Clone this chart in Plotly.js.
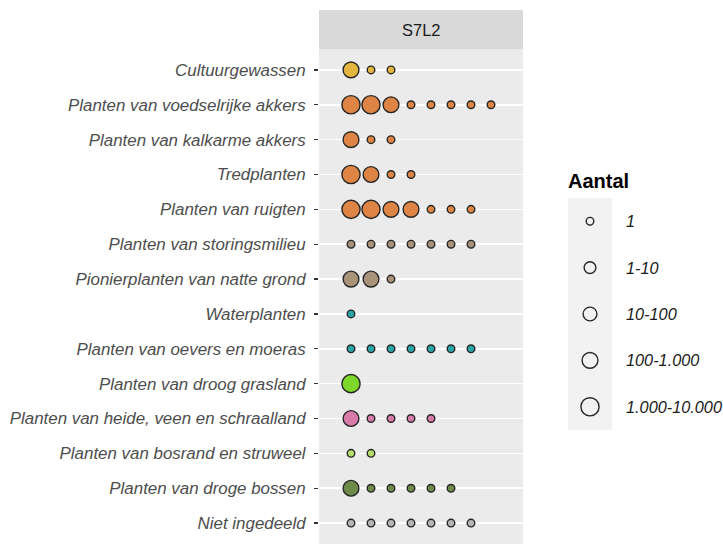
<!DOCTYPE html>
<html>
<head>
<meta charset="utf-8">
<script src="https://cdn.plot.ly/plotly-3.0.1.min.js"></script>
<style>html,body{margin:0;padding:0;background:#fff;}</style>
</head>
<body>
<div id="chart" style="width:723px;height:545px;"></div>
<script>
// ---- data ----
const facet = "S7L2";
const categories = [
  "Cultuurgewassen",
  "Planten van voedselrijke akkers",
  "Planten van kalkarme akkers",
  "Tredplanten",
  "Planten van ruigten",
  "Planten van storingsmilieu",
  "Pionierplanten van natte grond",
  "Waterplanten",
  "Planten van oevers en moeras",
  "Planten van droog grasland",
  "Planten van heide, veen en schraalland",
  "Planten van bosrand en struweel",
  "Planten van droge bossen",
  "Niet ingedeeld"
];
const groupColors = [
  "#E3B541", "#DE8545", "#DE8545", "#DE8545", "#DE8545",
  "#A89379", "#A89379", "#2AA5A5", "#2AA5A5", "#7ED62A",
  "#D97BA8", "#B7DE6A", "#6E8A4A", "#B5B5B5"
];
// size class index per point (0 = "1", 1 = "1-10", 2 = "10-100", 3 = "100-1.000", 4 = "1.000-10.000")
const sizeClassPerGroup = [
  [3, 0, 0],
  [4, 4, 3, 0, 0, 0, 0, 0],
  [3, 0, 0],
  [4, 3, 0, 0],
  [4, 4, 3, 3, 0, 0, 0],
  [0, 0, 0, 0, 0, 0, 0],
  [3, 3, 0],
  [0],
  [0, 0, 0, 0, 0, 0, 0],
  [4],
  [3, 0, 0, 0, 0],
  [0, 0],
  [3, 0, 0, 0, 0, 0],
  [0, 0, 0, 0, 0, 0, 0]
];
const sizeLabels = ["1", "1-10", "10-100", "100-1.000", "1.000-10.000"];

// ---- styling ----
const markerDiam = [7.6, 11.8, 13.8, 15.8, 18.2];
const W = 723, H = 545;
const px = v => v / W;
const py = v => (H - v) / H;
const FONT = "Liberation Sans, Arial, sans-serif";

const traces = [];
categories.forEach((cat, i) => {
  const cls = sizeClassPerGroup[i];
  traces.push({
    type: "scatter", mode: "markers",
    x: cls.map((_, k) => k + 1),
    y: cls.map(() => cat),
    marker: {
      size: cls.map(c => markerDiam[c]),
      color: groupColors[i],
      opacity: 1,
      line: {color: "#262626", width: 1.4}
    },
    hoverinfo: "skip", showlegend: false,
    xaxis: "x", yaxis: "y"
  });
});

// legend keys drawn on their own small axes
traces.push({
  type: "scatter", mode: "markers",
  x: sizeLabels.map(() => 0),
  y: sizeLabels.map((_, i) => i),
  marker: {
    symbol: "circle-open",
    size: sizeLabels.map((_, i) => markerDiam[i]),
    color: "#262626",
    opacity: 1,
    line: {width: 1.4}
  },
  hoverinfo: "skip", showlegend: false,
  xaxis: "x2", yaxis: "y2"
});

const annotations = [
  {text: facet, xref: "paper", yref: "paper", x: px(421), y: py(29.5),
   showarrow: false, xanchor: "center", yanchor: "middle",
   font: {family: FONT, size: 16.5, color: "#1A1A1A"}},
  {text: "Aantal", xref: "paper", yref: "paper", x: px(566), y: py(181),
   showarrow: false, xanchor: "left", yanchor: "middle",
   font: {family: FONT, size: 20, color: "#000", weight: "bold"}}
];
sizeLabels.forEach((lab, i) => {
  annotations.push({
    text: lab, xref: "paper", yref: "y2", x: px(624), y: i,
    showarrow: false, xanchor: "left", yanchor: "middle",
    font: {family: FONT, size: 16.3, color: "#1A1A1A", style: "italic"}
  });
});

const layout = {
  width: W, height: H,
  margin: {l: 0, r: 0, t: 0, b: 0},
  paper_bgcolor: "#FFFFFF",
  plot_bgcolor: "#EBEBEB",
  showlegend: false,
  xaxis: {
    domain: [px(319), px(523)],
    range: [-0.6, 9.6],
    showgrid: false, zeroline: false, showline: false,
    showticklabels: false, ticks: "", fixedrange: true
  },
  yaxis: {
    domain: [py(544), py(49)],
    type: "category",
    categoryorder: "array", categoryarray: categories,
    range: [categories.length - 1 + 0.6, -0.6],
    showgrid: true, gridcolor: "#FFFFFF", gridwidth: 1.6,
    zeroline: false, showline: false,
    ticks: "outside", ticklen: 4, tickwidth: 1.3, tickcolor: "#333333",
    ticklabelstandoff: 5,
    tickfont: {family: FONT, size: 16.9, color: "#4D4D4D", style: "italic"},
    fixedrange: true
  },
  xaxis2: {
    domain: [px(568), px(612)], anchor: "y2",
    range: [-1, 1], visible: false, fixedrange: true
  },
  yaxis2: {
    domain: [py(430), py(198)], anchor: "x2",
    range: [4.5, -0.5], visible: false, fixedrange: true
  },
  shapes: [
    {type: "rect", xref: "paper", yref: "paper",
     x0: px(319), x1: px(523), y0: py(49), y1: py(10),
     fillcolor: "#D9D9D9", line: {width: 0}, layer: "below"},
    {type: "rect", xref: "x2 domain", yref: "y2 domain",
     x0: 0, x1: 1, y0: 0, y1: 1,
     fillcolor: "#F2F2F2", line: {width: 0}, layer: "below"}
  ],
  annotations: annotations
};

Plotly.newPlot("chart", traces, layout, {displayModeBar: false, staticPlot: true});
</script>
</body>
</html>
